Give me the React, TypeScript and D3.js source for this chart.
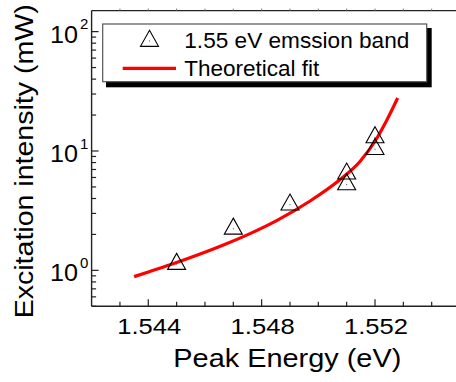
import React from "react";
import * as d3 from "d3";

// Measured emission points (Peak energy eV, excitation intensity mW)
const peakEnergy = [1.545, 1.547, 1.549, 1.551, 1.551, 1.552, 1.552];
const intensity = [1.13, 2.23, 3.55, 6.45, 5.25, 13.0, 10.35];

// Theoretical fit curve
const fitEnergy = [1.5435, 1.54406, 1.54477, 1.54571, 1.54665, 1.54759, 1.54853, 1.54971, 1.55076, 1.55147, 1.55206, 1.55241, 1.5528];
const fitIntensity = [0.886, 0.979, 1.114, 1.338, 1.632, 2.033, 2.613, 3.813, 5.739, 8.168, 12.73, 18.01, 27.79];

const xMajorTicks = [1.544, 1.548, 1.552];
const xMajorLabels = ["1.544", "1.548", "1.552"];
const xMinorTicks = [1.543, 1.545, 1.546, 1.547, 1.549, 1.55, 1.551, 1.553, 1.554];
const yMajorTicks = [1, 10, 100];
const yMajorExp = ["0", "1", "2"];

const legendLabels = ["1.55 eV emssion band", "Theoretical fit"];
const xTitle = "Peak Energy (eV)";
const yTitle = "Excitation intensity (mW)";

const W = 456;
const H = 382;
const FONT = "'Liberation Sans', Arial, Helvetica, sans-serif";

export default function App() {
  const left = 91.6;
  const top = 10.6;
  const bottom = 306.3;
  const x = d3.scaleLinear().domain([1.542, 1.555]).range([left, left + 13 * 28.34]);
  const y = d3.scaleLog().domain([0.5, 150]).range([bottom, top]);
  const right = x(1.555);

  const yMinor: number[] = [];
  [0.1, 1, 10, 100].forEach((d) => {
    for (let k = 2; k <= 9; k++) {
      const v = d * k;
      if (v >= 0.5 && v <= 150) yMinor.push(v);
    }
  });

  const line = d3
    .line<number>()
    .x((_, i) => x(fitEnergy[i]))
    .y((d) => y(d))
    .curve(d3.curveMonotoneX);

  const tri = (cx: number, cy: number, key: string | number) => {
    const h = 16;
    const hw = 9;
    const p = `M${cx},${cy - (2 / 3) * h} L${cx + hw},${cy + h / 3} L${cx - hw},${cy + h / 3} Z`;
    return (
      <g key={key}>
        <path d={p} fill="none" stroke="#000" strokeWidth={1.1} strokeLinejoin="miter" />
        <rect x={cx - 0.5} y={cy - 0.5} width={1} height={1} fill="#444" />
      </g>
    );
  };

  const axisColor = "#222";

  return (
    <div style={{ position: "absolute", left: 0, top: 0, width: W, height: H, overflow: "hidden", background: "#fff" }}>
      <svg width={W} height={H} style={{ display: "block" }} fontFamily={FONT}>
        <rect x={0} y={0} width={W} height={H} fill="#fff" />
        {/* frame */}
        <line x1={left} x2={right} y1={bottom} y2={bottom} stroke={axisColor} strokeWidth={1.4} />
        <line x1={left} x2={right} y1={top} y2={top} stroke={axisColor} strokeWidth={1.4} />
        <line x1={left} x2={left} y1={top} y2={bottom} stroke={axisColor} strokeWidth={1.4} />
        <line x1={right} x2={right} y1={top} y2={bottom} stroke={axisColor} strokeWidth={1.4} />

        {/* x ticks */}
        {xMajorTicks.map((t) => (
          <g key={"xm" + t}>
            <line x1={x(t)} x2={x(t)} y1={bottom} y2={bottom - 7} stroke={axisColor} strokeWidth={1.2} />
            <line x1={x(t)} x2={x(t)} y1={top} y2={top - 2} stroke="#777" strokeWidth={1} />
          </g>
        ))}
        {xMinorTicks.map((t) => (
          <g key={"xn" + t}>
            <line x1={x(t)} x2={x(t)} y1={bottom} y2={bottom - 4.5} stroke={axisColor} strokeWidth={1.2} />
            <line x1={x(t)} x2={x(t)} y1={top} y2={top - 2} stroke="#777" strokeWidth={1} />
          </g>
        ))}
        {xMajorTicks.map((t, i) => (
          <text key={"xl" + t} x={x(t) + 1} y={334.3} fontSize={22} textAnchor="middle" textLength={64} lengthAdjust="spacingAndGlyphs" fill="#000">
            {xMajorLabels[i]}
          </text>
        ))}

        {/* y ticks */}
        {yMajorTicks.map((t) => (
          <line key={"ym" + t} x1={left} x2={left + 7} y1={y(t)} y2={y(t)} stroke={axisColor} strokeWidth={1.2} />
        ))}
        {yMinor.map((t) => (
          <line key={"yn" + t} x1={left} x2={left + 4.5} y1={y(t)} y2={y(t)} stroke={axisColor} strokeWidth={1.2} />
        ))}
        {yMajorTicks.map((t, i) => (
          <g key={"yl" + t}>
            <text x={50} y={y(t) + 11} fontSize={23} textLength={28} lengthAdjust="spacingAndGlyphs" fill="#000">
              10
            </text>
            <text x={80} y={y(t) - 2.4} fontSize={15} fill="#000">
              {yMajorExp[i]}
            </text>
          </g>
        ))}

        {/* fit curve */}
        <path d={line(fitIntensity) || ""} fill="none" stroke="#ff0000" strokeWidth={3.2} />

        {/* points */}
        {peakEnergy.map((e, i) => tri(x(e), y(intensity[i]), i))}

        {/* legend */}
        <rect x={106} y={28} width={325.7} height={59.3} fill="#000" />
        <rect x={102.7} y={24} width={324} height={57.7} fill="#fff" stroke="#555" strokeWidth={1.2} />
        {tri(149.5, 41, "leg")}
        <line x1={122.7} x2={176} y1={68.3} y2={68.3} stroke="#ff0000" strokeWidth={3.2} />
        <text x={184.3} y={47.7} fontSize={22} textLength={225} lengthAdjust="spacingAndGlyphs" fill="#000">
          {legendLabels[0]}
        </text>
        <text x={184.3} y={76} fontSize={22} textLength={135} lengthAdjust="spacingAndGlyphs" fill="#000">
          {legendLabels[1]}
        </text>

        {/* axis titles */}
        <text x={173.3} y={366.7} fontSize={25.5} textLength={228} lengthAdjust="spacingAndGlyphs" fill="#000">
          {xTitle}
        </text>
        <text
          transform={`translate(33.3,161.3) rotate(-90)`}
          x={0}
          y={0}
          fontSize={26}
          textAnchor="middle"
          textLength={314}
          lengthAdjust="spacingAndGlyphs"
          fill="#000"
        >
          {yTitle}
        </text>
      </svg>
    </div>
  );
}
